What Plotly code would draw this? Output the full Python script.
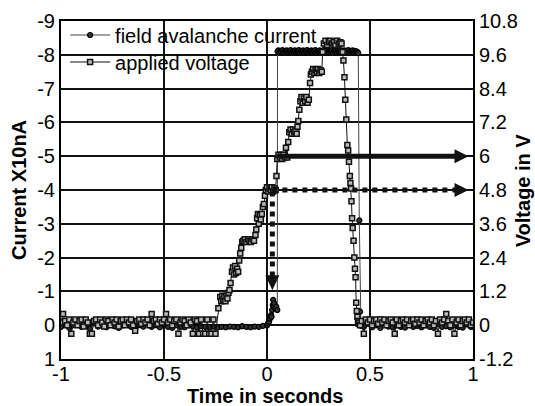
import plotly.graph_objects as go

# ---------------- data ----------------
# Field avalanche current (X10nA), left axis
cur_t = [-1.00, -0.98, -0.96, -0.94, -0.92, -0.90, -0.88, -0.86, -0.84, -0.82,
         -0.80, -0.78, -0.76, -0.74, -0.72, -0.70, -0.68, -0.66, -0.64, -0.62,
         -0.60, -0.58, -0.56, -0.54, -0.52, -0.50, -0.48, -0.46, -0.44, -0.42,
         -0.40, -0.38, -0.36, -0.34, -0.32, -0.30, -0.28, -0.26, -0.24, -0.22,
         -0.20, -0.18, -0.16, -0.14, -0.12, -0.10, -0.08, -0.06, -0.04, -0.02,
         0.000, 0.005, 0.010, 0.015, 0.020, 0.022, 0.025, 0.028, 0.030, 0.032,
         0.035, 0.040, 0.045, 0.050,
         0.051, 0.055, 0.060, 0.065, 0.070, 0.075, 0.080, 0.085, 0.090, 0.095,
         0.100, 0.105, 0.110, 0.115, 0.120, 0.125, 0.130, 0.135, 0.140, 0.145,
         0.150, 0.155, 0.160, 0.165, 0.170, 0.175, 0.180, 0.185, 0.190, 0.195,
         0.200, 0.205, 0.210, 0.215, 0.220, 0.225, 0.230, 0.235, 0.240, 0.245,
         0.250, 0.255, 0.260, 0.265, 0.270, 0.275, 0.280, 0.285, 0.290, 0.295,
         0.300, 0.305, 0.310, 0.315, 0.320, 0.325, 0.330, 0.335, 0.340, 0.345,
         0.350, 0.355, 0.360, 0.365, 0.370, 0.375, 0.380, 0.385, 0.390, 0.395,
         0.400, 0.405, 0.410, 0.415, 0.420, 0.425, 0.430, 0.435, 0.440,
         0.443, 0.448, 0.452, 0.456,
         0.47, 0.49, 0.51, 0.53, 0.55, 0.57, 0.59, 0.61, 0.63, 0.65,
         0.67, 0.69, 0.71, 0.73, 0.75, 0.77, 0.79, 0.81, 0.83, 0.85,
         0.87, 0.89, 0.91, 0.93, 0.95, 0.97, 0.99, 1.00]
cur_i = [0.05, -0.05, 0.08, 0.0, -0.06, 0.05, 0.02, 0.1, -0.05, 0.04,
         0.0, 0.06, -0.04, 0.03, 0.08, 0.0, -0.05, 0.05, 0.1, 0.0,
         0.04, -0.06, 0.05, 0.0, 0.06, -0.03, 0.05, 0.08, 0.0, 0.05,
         0.06, 0.0, 0.04, 0.07, 0.03, 0.05, 0.06, 0.04, 0.07, 0.05,
         0.06, 0.04, 0.05, 0.06, 0.03, 0.05, 0.06, 0.04, 0.05, 0.02,
         0.0, -0.05, -0.1, -0.2, -0.3, -0.25, -0.45, -0.6, -0.75, -0.55,
         -0.65, -0.5, -0.55, -0.45,
         -8.10, -8.13, -8.07, -8.12, -8.09, -8.14, -8.06, -8.11, -8.10, -8.13,
         -8.07, -8.12, -8.09, -8.14, -8.06, -8.11, -8.10, -8.13, -8.07, -8.12,
         -8.09, -8.14, -8.06, -8.11, -8.10, -8.13, -8.07, -8.12, -8.09, -8.14,
         -8.06, -8.11, -8.10, -8.13, -8.07, -8.12, -8.09, -8.14, -8.06, -8.11,
         -8.10, -8.13, -8.07, -8.12, -8.09, -8.14, -8.06, -8.11, -8.10, -8.13,
         -8.07, -8.12, -8.09, -8.14, -8.06, -8.11, -8.10, -8.13, -8.07, -8.12,
         -8.09, -8.14, -8.06, -8.11, -8.10, -8.13, -8.07, -8.12, -8.09, -8.14,
         -8.06, -8.11, -8.10, -8.13, -8.07, -8.12, -8.09, -8.10, -8.08,
         -8.05, -3.1, -0.4, 0.02,
         0.05, -0.04, 0.06, 0.0, 0.08, -0.05, 0.04, 0.06, 0.0, 0.05,
         0.07, -0.03, 0.05, 0.02, 0.06, 0.0, 0.05, 0.08, -0.04, 0.05,
         0.03, 0.06, 0.0, 0.05, 0.07, -0.02, 0.05, 0.04]

# Applied voltage (V), right axis
volt_t = [-1.00, -0.99, -0.98, -0.97, -0.96, -0.95, -0.94, -0.93, -0.92, -0.91,
          -0.90, -0.89, -0.88, -0.87, -0.86, -0.85, -0.84, -0.83, -0.82, -0.81,
          -0.80, -0.79, -0.78, -0.77, -0.76, -0.75, -0.74, -0.73, -0.72, -0.71,
          -0.70, -0.69, -0.68, -0.67, -0.66, -0.65, -0.64, -0.63, -0.62, -0.61,
          -0.60, -0.59, -0.58, -0.57, -0.56, -0.55, -0.54, -0.53, -0.52, -0.51,
          -0.50, -0.49, -0.48, -0.47, -0.46, -0.45, -0.44, -0.43, -0.42, -0.41,
          -0.40, -0.39, -0.38, -0.37, -0.36, -0.35, -0.34, -0.33, -0.32, -0.31,
          -0.30, -0.29, -0.28, -0.27, -0.26, -0.25,
          -0.236, -0.227, -0.222, -0.217, -0.212, -0.207, -0.202, -0.197, -0.192, -0.187,
          -0.182, -0.177, -0.170, -0.165, -0.160, -0.155, -0.150, -0.145, -0.140, -0.135,
          -0.130, -0.125, -0.120, -0.115, -0.108, -0.100, -0.092, -0.085, -0.078, -0.070,
          -0.063, -0.056, -0.052, -0.048, -0.044, -0.040, -0.035, -0.030, -0.025, -0.020,
          -0.015, -0.010, -0.006, 0.000, 0.006, 0.012, 0.018, 0.024, 0.030, 0.036,
          0.042, 0.046, 0.050, 0.056, 0.062, 0.068, 0.074, 0.080, 0.086, 0.092,
          0.098, 0.103, 0.108, 0.114, 0.120, 0.126, 0.132, 0.138, 0.144, 0.148,
          0.152, 0.157, 0.162, 0.167, 0.173, 0.179, 0.185, 0.191, 0.197, 0.203,
          0.209, 0.213, 0.218, 0.224, 0.230, 0.236, 0.242, 0.248, 0.254, 0.260,
          0.266, 0.270, 0.276, 0.284, 0.292, 0.300, 0.308, 0.316, 0.324, 0.332,
          0.340, 0.348, 0.356, 0.362, 0.367, 0.371, 0.376, 0.380, 0.385, 0.390,
          0.394, 0.398, 0.402, 0.405, 0.408, 0.410, 0.413, 0.416, 0.420, 0.424,
          0.427, 0.430, 0.433, 0.436, 0.439, 0.442, 0.445, 0.448, 0.452,
          0.46, 0.47, 0.48, 0.49, 0.50, 0.51, 0.52, 0.53, 0.54, 0.55,
          0.56, 0.57, 0.58, 0.59, 0.60, 0.61, 0.62, 0.63, 0.64, 0.65,
          0.66, 0.67, 0.68, 0.69, 0.70, 0.71, 0.72, 0.73, 0.74, 0.75,
          0.76, 0.77, 0.78, 0.79, 0.80, 0.81, 0.82, 0.83, 0.84, 0.85,
          0.86, 0.87, 0.88, 0.89, 0.90, 0.91, 0.92, 0.93, 0.94, 0.95,
          0.96, 0.97, 0.98, 0.99, 1.00]
volt_v = [0.1, 0.4, 0.15, 0.0, 0.2, -0.3, 0.1, 0.2, 0.0, 0.15,
          0.2, -0.05, 0.2, 0.1, -0.3, -0.3, 0.15, 0.2, 0.0, 0.2,
          0.1, -0.05, 0.2, 0.15, 0.0, 0.2, 0.1, 0.2, -0.05, 0.15,
          0.2, 0.0, 0.2, 0.1, 0.2, 0.0, -0.2, 0.15, 0.2, 0.05,
          0.2, 0.1, 0.2, 0.0, 0.4, 0.15, 0.2, 0.05, 0.2, 0.1,
          0.2, 0.4, 0.1, 0.2, 0.0, 0.15, 0.2, -0.3, 0.1, 0.2,
          0.15, 0.0, 0.2, 0.1, -0.3, 0.2, 0.15, -0.3, 0.2, -0.3,
          -0.3, 0.2, -0.3, -0.3, 0.2, -0.3,
          0.6, 1.0, 0.85, 1.05, 0.9, 1.0, 0.85, 1.05, 0.95, 1.15,
          1.25, 1.5, 1.9, 2.05, 1.8, 2.1, 1.85, 2.0, 1.9, 2.3,
          2.55, 2.75, 2.95, 3.0, 3.05, 2.95, 3.05, 3.0, 2.95, 3.05,
          3.0, 3.2, 3.4, 3.8, 3.95, 3.6, 3.9, 3.75, 3.95, 4.2,
          4.3, 4.6, 4.8, 4.9, 4.75, 4.85, 4.8, 4.9, 4.75, 4.85,
          4.8, 5.3, 5.9, 6.05, 5.95, 6.05, 5.9, 6.05, 5.95, 6.3,
          5.95, 6.5, 6.85, 6.95, 6.8, 6.95, 6.85, 6.9, 6.8, 7.05,
          7.25, 7.65, 7.95, 8.1, 7.9, 8.05, 7.95, 8.1, 7.9, 8.0,
          8.6, 8.9, 9.0, 9.1, 8.95, 9.05, 9.0, 9.1, 8.95, 9.05,
          9.0, 9.7, 10.0, 10.1, 9.95, 10.05, 10.1, 10.0, 10.05, 9.95,
          10.1, 10.0, 10.05, 10.0, 9.7, 9.4, 8.8, 8.0, 7.3, 6.4,
          6.2, 5.8, 5.3, 5.05, 4.85, 4.4, 3.8, 3.45, 3.0, 2.4,
          2.0, 1.7, 0.8, 0.5, 0.3, 0.15, 0.05, 0.1, 0.0,
          0.15, -0.3, 0.2, 0.1, 0.2, 0.0, 0.15, 0.2, 0.05, 0.2,
          0.1, 0.2, 0.0, 0.15, 0.2, 0.1, -0.3, 0.2, 0.0, 0.15,
          0.2, 0.1, 0.2, 0.0, 0.15, 0.2, 0.05, 0.2, 0.1, 0.2,
          0.0, 0.15, 0.2, 0.1, 0.2, 0.0, 0.15, -0.3, 0.2, 0.1,
          0.2, 0.4, 0.15, 0.0, 0.2, -0.3, 0.1, 0.2, 0.0, 0.15,
          0.2, 0.1, 0.2, 0.0, 0.1]

x_ticks = [-1, -0.5, 0, 0.5, 1]
x_labels = ["-1", "-0.5", "0", "0.5", "1"]
cur_ticks = [-9, -8, -7, -6, -5, -4, -3, -2, -1, 0, 1]
cur_labels = ["-9", "-8", "-7", "-6", "-5", "-4", "-3", "-2", "-1", "0", "1"]
volt_ticks = [10.8, 9.6, 8.4, 7.2, 6.0, 4.8, 3.6, 2.4, 1.2, 0, -1.2]
volt_labels = ["10.8", "9.6", "8.4", "7.2", "6", "4.8", "3.6", "2.4", "1.2", "0", "-1.2"]

# arrow annotations (time, voltage)
solid_arrow = dict(t0=0.055, t1=0.92, v=6.0)
dotted_arrow = dict(t0=0.026, t1=0.92, v=4.8)
down_arrow = dict(t=0.026, v0=4.75, v1=1.7)

FONT = "Liberation Sans, Arial, sans-serif"

fig = go.Figure()
fig.add_trace(go.Scatter(
    x=cur_t, y=cur_i, mode="lines+markers", name="field avalanche current",
    yaxis="y", legend="legend", line=dict(color="#444444", width=1),
    marker=dict(symbol="circle", size=5, color="#333333",
                line=dict(color="#000000", width=1.2))))
fig.add_trace(go.Scatter(
    x=volt_t, y=volt_v, mode="lines+markers", name="applied voltage",
    yaxis="y2", legend="legend2", line=dict(color="#111111", width=1),
    marker=dict(symbol="square", size=5, color="#bbbbbb",
                line=dict(color="#111111", width=1.5))))

shapes = []
# solid horizontal arrow
shapes.append(dict(type="line", xref="x", yref="y2", x0=solid_arrow["t0"], x1=solid_arrow["t1"],
                   y0=solid_arrow["v"], y1=solid_arrow["v"], line=dict(color="#111", width=5)))
shapes.append(dict(type="path", xref="x", yref="y2", xsizemode="pixel", ysizemode="pixel",
                   xanchor=solid_arrow["t1"], yanchor=solid_arrow["v"],
                   path="M-2,-7 L-2,7 L12,0 Z", fillcolor="#111", line=dict(width=0)))
# dotted horizontal arrow
shapes.append(dict(type="line", xref="x", yref="y2", x0=dotted_arrow["t0"], x1=dotted_arrow["t1"],
                   y0=dotted_arrow["v"], y1=dotted_arrow["v"],
                   line=dict(color="#111", width=5, dash="dot")))
shapes.append(dict(type="path", xref="x", yref="y2", xsizemode="pixel", ysizemode="pixel",
                   xanchor=dotted_arrow["t1"], yanchor=dotted_arrow["v"],
                   path="M-2,-7 L-2,7 L12,0 Z", fillcolor="#111", line=dict(width=0)))
# dotted vertical arrow
shapes.append(dict(type="line", xref="x", yref="y2", x0=down_arrow["t"], x1=down_arrow["t"],
                   y0=down_arrow["v0"], y1=down_arrow["v1"],
                   line=dict(color="#111", width=5, dash="dot")))
shapes.append(dict(type="path", xref="x", yref="y2", xsizemode="pixel", ysizemode="pixel",
                   xanchor=down_arrow["t"], yanchor=down_arrow["v1"],
                   path="M-7,2 L7,2 L0,-13 Z", fillcolor="#111", line=dict(width=0)))

axis_common = dict(showline=True, linecolor="black", linewidth=2, ticks="",
                   zeroline=False, automargin=False,
                   tickfont=dict(family=FONT, size=20, color="black"))

legend_common = dict(xanchor="left", yanchor="middle", bgcolor="rgba(0,0,0,0)",
                     font=dict(family=FONT, size=20, color="black"), itemwidth=40)

fig.update_layout(
    width=535, height=406,
    margin=dict(l=61, r=62, t=21, b=47),
    paper_bgcolor="white", plot_bgcolor="white",
    font=dict(family=FONT, size=20, color="black"),
    xaxis=dict(range=[-1, 1], tickvals=x_ticks, ticktext=x_labels, ticklabelstandoff=-4,
               showgrid=True, gridcolor="#111", gridwidth=1.5, mirror=True, **axis_common),
    yaxis=dict(range=[1, -9], tickvals=cur_ticks, ticktext=cur_labels,
               showgrid=True, gridcolor="#111", gridwidth=1.5, mirror=True, **axis_common),
    yaxis2=dict(range=[-1.2, 10.8], tickvals=volt_ticks, ticktext=volt_labels,
                overlaying="y", side="right", showgrid=False, **axis_common),
    legend=dict(x=0.01, y=0.9586, **legend_common),
    legend2=dict(x=0.01, y=0.8787, **legend_common),
    showlegend=True,
    shapes=shapes,
    annotations=[
        dict(text="<b>Current X10nA</b>", xref="paper", yref="paper", x=-0.102, y=0.5,
             xanchor="center", yanchor="middle",
             textangle=-90, showarrow=False, font=dict(family=FONT, size=20)),
        dict(text="<b>Voltage in V</b>", xref="paper", yref="paper", x=1.122, y=0.5,
             xanchor="center", yanchor="middle",
             textangle=-90, showarrow=False, font=dict(family=FONT, size=20)),
        dict(text="<b>Time in seconds</b>", xref="paper", yref="paper", x=0.495, y=-0.109,
             xanchor="center", yanchor="middle",
             showarrow=False, font=dict(family=FONT, size=20)),
    ],
)

fig.write_html("out.html", config={"displayModeBar": False},
               post_script="document.body.style.margin='0px';")
